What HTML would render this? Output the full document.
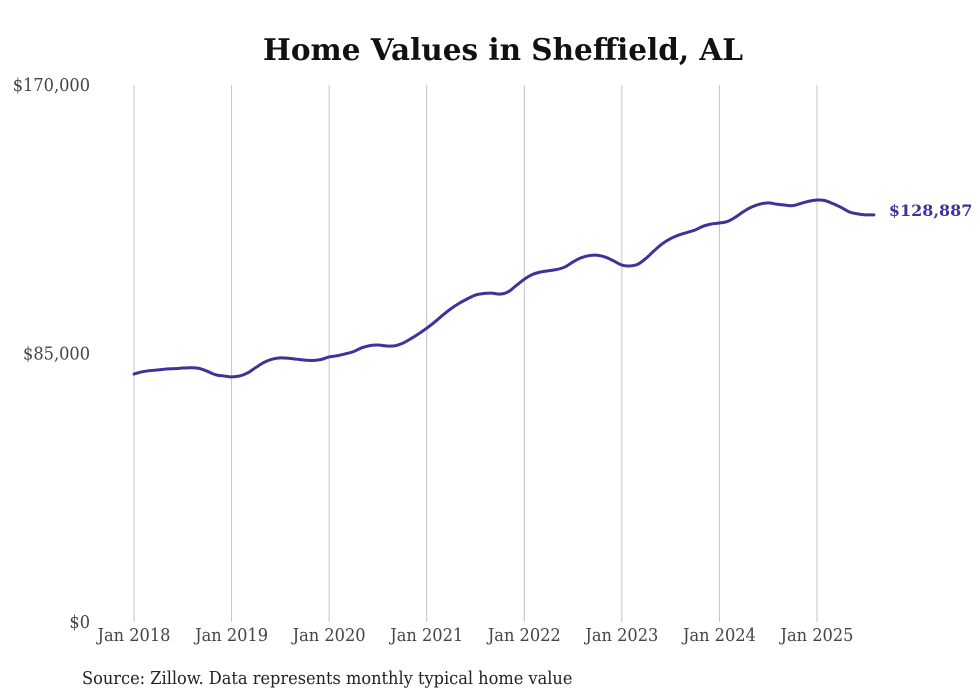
<!DOCTYPE html>
<html><head><meta charset="utf-8"><style>
body{margin:0;background:#fff;}
svg{display:block;}
text{font-family:"DejaVu Serif Condensed","DejaVu Serif","Liberation Serif",serif;font-stretch:condensed;}
</style></head><body>
<svg id="chart" width="980" height="699" viewBox="0 0 980 699">
<text x="503" y="60" text-anchor="middle" font-size="29.5" font-weight="bold" fill="#111" style="font-family:'DejaVu Serif',serif;font-stretch:normal">Home Values in Sheffield, AL</text>
<g id="grid"></g><g id="yaxis"></g><g id="xaxis"></g><g id="series"></g>
<text x="82" y="684" font-size="18" fill="#222">Source: Zillow. Data represents monthly typical home value</text>
</svg>
<script>
const yTicks=[0,85000,170000];
const yTickLabels=["$0","$85,000","$170,000"];
const xTickYears=[2018,2019,2020,2021,2022,2023,2024,2025];
const xTickLabels=["Jan 2018","Jan 2019","Jan 2020","Jan 2021","Jan 2022","Jan 2023","Jan 2024","Jan 2025"];
const startYear=2018;
const values=[
78.5,79.2,79.6,79.8,80.1,80.2,80.4,80.5,80.3,79.4,78.3,77.9,
77.6,77.9,78.9,80.6,82.2,83.2,83.6,83.5,83.2,82.9,82.8,83.1,
83.9,84.3,84.9,85.6,86.8,87.5,87.7,87.4,87.4,88.2,89.6,91.2,
93.0,95.0,97.2,99.2,100.9,102.3,103.5,104.0,104.1,103.8,104.5,106.5,
108.5,110.0,110.8,111.2,111.6,112.4,114.0,115.3,116.0,116.1,115.5,114.3,
113.0,112.7,113.3,115.2,117.6,119.8,121.4,122.5,123.3,124.1,125.3,126.0,
126.3,126.8,128.2,130.0,131.4,132.3,132.7,132.3,132.0,131.8,132.5,133.2,
133.6,133.4,132.4,131.2,129.8,129.2,128.9,128.887].map(v=>v*1000);
const endLabel="$128,887";

const NS="http://www.w3.org/2000/svg";
const y=v=>622-v/170000*537;
const x=m=>134+m*(817-134)/84;
function mk(tag,attrs,parent,txt){const e=document.createElementNS(NS,tag);for(const k in attrs)e.setAttribute(k,attrs[k]);if(txt!==undefined)e.textContent=txt;parent.appendChild(e);return e;}
const grid=document.getElementById('grid'),ya=document.getElementById('yaxis'),xa=document.getElementById('xaxis'),se=document.getElementById('series');
xTickYears.forEach((yr,i)=>{
  const xx=x((yr-startYear)*12);
  const l=mk('line',{x1:xx,x2:xx,y1:85,y2:622,stroke:'#c4c4c4','stroke-width':1},grid);
  
  
  const t=mk('text',{x:xx,y:641,'text-anchor':'middle','font-size':18,fill:'#444'},xa,xTickLabels[i]);
  
  
});
yTicks.forEach((v,i)=>{
  const t=mk('text',{x:90,y:y(v)+6,'text-anchor':'end','font-size':18,fill:'#444'},ya,yTickLabels[i]);
  
  
});
const pts=values.map((v,i)=>[x(i),y(v)]);
let d='M'+pts[0][0]+','+pts[0][1];
for(let i=0;i<pts.length-1;i++){
  const p0=pts[Math.max(i-1,0)],p1=pts[i],p2=pts[i+1],p3=pts[Math.min(i+2,pts.length-1)];
  const c1=[p1[0]+(p2[0]-p0[0])/6,p1[1]+(p2[1]-p0[1])/6],c2=[p2[0]-(p3[0]-p1[0])/6,p2[1]-(p3[1]-p1[1])/6];
  d+=' C'+c1+' '+c2+' '+p2;
}
const path=mk('path',{d:d,fill:'none',stroke:'#3d3399','stroke-width':3,'stroke-linejoin':'round','stroke-linecap':'round'},se);


const last=pts[pts.length-1];
const lbl=mk('text',{x:last[0]+15,y:last[1]+1,'font-size':16,'font-weight':'bold',fill:'#3d3399',style:"font-family:'DejaVu Serif',serif;font-stretch:normal"},se,endLabel);


</script>
</body></html>
